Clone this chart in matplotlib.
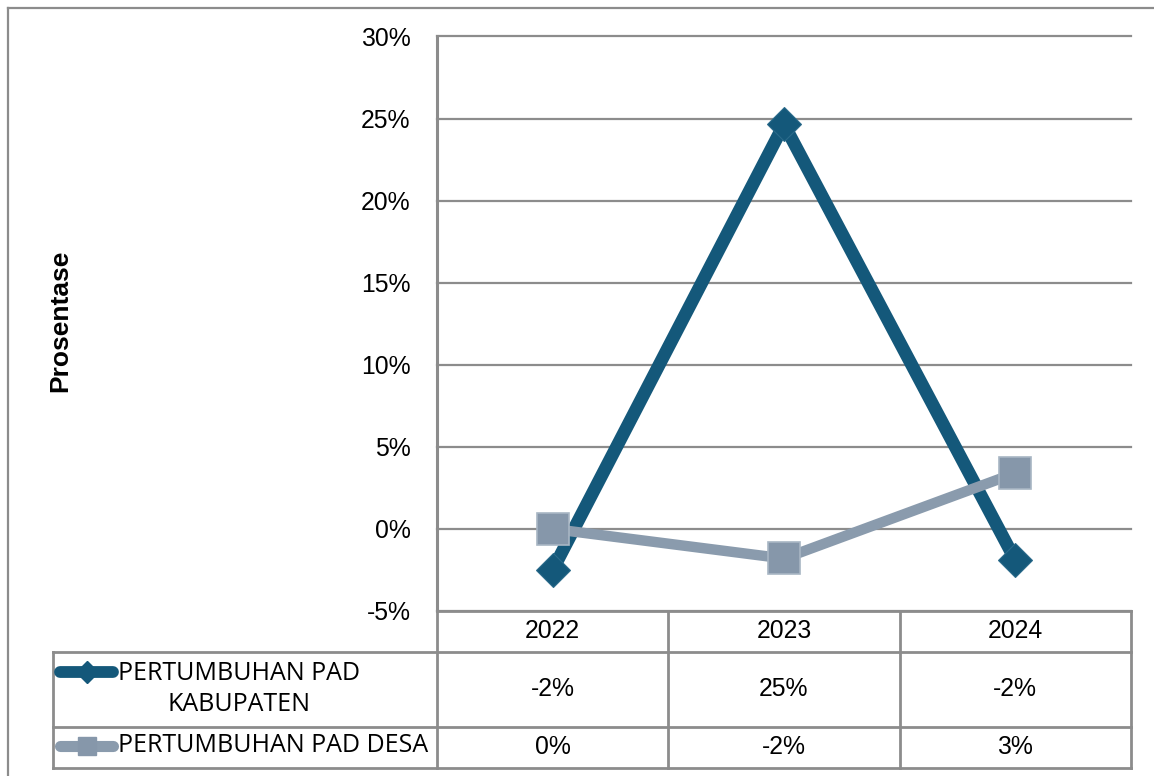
import matplotlib
matplotlib.use("Agg")
import matplotlib.pyplot as plt
from matplotlib.lines import Line2D
from matplotlib.transforms import blended_transform_factory
import numpy as np

# ---- data ----
categories = ["2022", "2023", "2024"]
kabupaten = [-2.5, 24.65, -1.9]
desa = [0.0, -1.8, 3.4]
kab_table = ["-2%", "25%", "-2%"]
desa_table = ["0%", "-2%", "3%"]
series_names = ["PERTUMBUHAN PAD\nKABUPATEN", "PERTUMBUHAN PAD DESA"]
y_ticks = [-5, 0, 5, 10, 15, 20, 25, 30]
y_label = "Prosentase"

W, H = 1154, 776
DPI = 100
fig = plt.figure(figsize=(W / DPI, H / DPI), dpi=DPI)
fig.patch.set_facecolor("white")

def fx(px):
    return px / W

def fy(py):
    return 1 - py / H

KAB_C = "#14587a"
DESA_C = "#8a9bad"
GRID_C = "#8c8c8c"
TICK_FONT = "Liberation Sans"
LEG_FONT = "Open Sans"
FS = 17.8

# plot axes
left, right, top, bottom = 437, 1131, 36.5, 611
ax = fig.add_axes([fx(left), fy(bottom), fx(right - left), (bottom - top) / H])
x = np.arange(len(categories))
ax.set_xlim(-0.5, len(categories) - 0.5)
ax.set_ylim(-5, 30)
ax.set_yticks(y_ticks)
ax.set_yticklabels([f"{t}%" for t in y_ticks], fontfamily=TICK_FONT, fontsize=FS)
ax.set_xticks([])
ax.tick_params(axis="y", length=0, pad=19)
for s in ["top", "right", "bottom"]:
    ax.spines[s].set_visible(False)
ax.spines["left"].set_color(GRID_C)
ax.spines["left"].set_linewidth(2.2)
ax.yaxis.grid(True, color=GRID_C, linewidth=1.6)
for gl in ax.get_ygridlines():
    gl.set_clip_on(False)
ax.set_axisbelow(True)
ax.patch.set_alpha(0)

ax.plot(x, kabupaten, color=KAB_C, linewidth=9.3, marker="D", markersize=17.5,
        markerfacecolor=KAB_C, markeredgecolor="#2a6a8a", markeredgewidth=0.8,
        zorder=3, solid_joinstyle="miter")
ax.plot(x, desa, color=DESA_C, linewidth=7.5, marker="s", markersize=23,
        markerfacecolor="#8697aa", markeredgecolor="#a8b6c4", markeredgewidth=1.2,
        zorder=4)

# y label
fig.text(fx(60), fy(321), y_label, rotation=90, ha="center", va="center",
         fontfamily=TICK_FONT, fontweight="bold", fontsize=19)

# outer frame
fig.add_artist(Line2D([fx(8), fx(8)], [fy(8), fy(780)], transform=fig.transFigure,
                      color=GRID_C, linewidth=1.6))
fig.add_artist(Line2D([fx(8), fx(1160)], [fy(8), fy(8)], transform=fig.transFigure,
                      color=GRID_C, linewidth=1.6))

# table
tr = blended_transform_factory(ax.transData, fig.transFigure)
row_y = [611, 652, 727, 768]
tbl_left = 53
def hline(x0, x1, y):
    fig.add_artist(Line2D([fx(x0), fx(x1)], [fy(y), fy(y)], transform=fig.transFigure,
                          color=GRID_C, linewidth=2.0, solid_capstyle="projecting"))
def vline(xp, y0, y1):
    fig.add_artist(Line2D([fx(xp), fx(xp)], [fy(y0), fy(y1)], transform=fig.transFigure,
                          color=GRID_C, linewidth=2.0, solid_capstyle="projecting"))

hline(left, right, row_y[0])
for yy in row_y[1:]:
    hline(tbl_left, right, yy)
vline(left, bottom, row_y[3])
vline(tbl_left, row_y[1], row_y[3])
for b in np.arange(0.5, len(categories) - 0.5, 1.0):
    fig.add_artist(Line2D([b, b], [fy(row_y[0]), fy(row_y[3])], transform=tr,
                          color=GRID_C, linewidth=2.0))
vline(right, row_y[0], row_y[3])

for i, c in enumerate(categories):
    fig.text(i, fy((row_y[0] + row_y[1]) / 2), c, transform=tr, ha="center", va="center",
             fontfamily=TICK_FONT, fontsize=FS)
    fig.text(i, fy((row_y[1] + row_y[2]) / 2), kab_table[i], transform=tr, ha="center",
             va="center", fontfamily=TICK_FONT, fontsize=FS)
    fig.text(i, fy((row_y[2] + row_y[3]) / 2), desa_table[i], transform=tr, ha="center",
             va="center", fontfamily=TICK_FONT, fontsize=FS)

# legend keys
def key(yc, color, marker, ms, mfc, mec, lw):
    fig.add_artist(Line2D([fx(60), fx(113)], [fy(yc), fy(yc)], transform=fig.transFigure,
                          color=color, linewidth=lw, solid_capstyle="round"))
    fig.add_artist(Line2D([fx(87)], [fy(yc)], transform=fig.transFigure, marker=marker,
                          markersize=ms, markerfacecolor=mfc, markeredgecolor=mec,
                          linestyle="none"))

key(672, KAB_C, "D", 11, KAB_C, KAB_C, 8.5)
key(746, DESA_C, "s", 13, "#8697aa", "#8697aa", 8.0)

fig.text(fx(239), fy(689), series_names[0], ha="center", va="center",
         fontfamily=LEG_FONT, fontsize=18, linespacing=1.35)
fig.text(fx(118), fy(746), series_names[1], ha="left", va="center",
         fontfamily=LEG_FONT, fontsize=18)

fig.savefig("out.png", dpi=DPI, facecolor="white")
